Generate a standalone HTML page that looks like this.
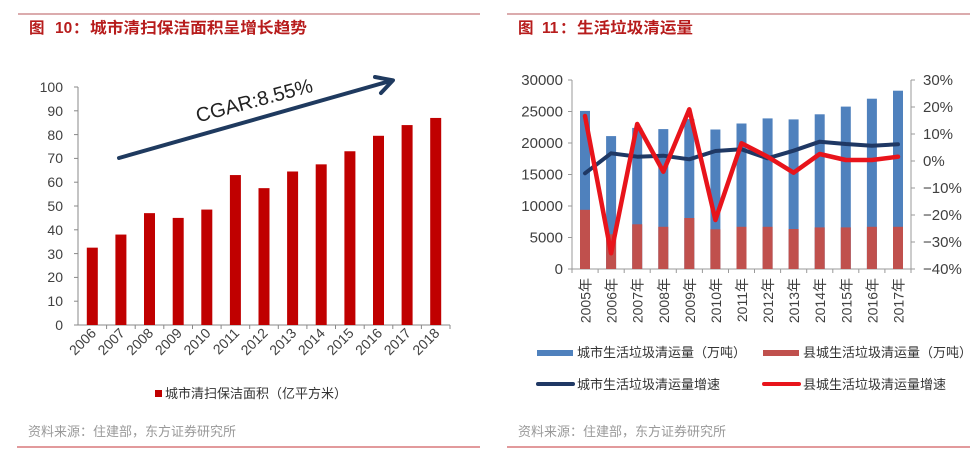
<!DOCTYPE html>
<html><head><meta charset="utf-8"><style>
html,body{margin:0;padding:0;background:#fff;}
svg{display:block;}
text{font-family:"Liberation Sans","Noto Sans CJK SC",sans-serif;}
</style></head><body>
<svg width="977" height="457" viewBox="0 0 977 457" xmlns="http://www.w3.org/2000/svg">
<rect width="977" height="457" fill="#fff"/>
<!-- frame lines -->
<line x1="18" y1="14" x2="480" y2="14" stroke="#cf8f92" stroke-width="1.5"/>
<line x1="507" y1="14" x2="970" y2="14" stroke="#cf8f92" stroke-width="1.5"/>
<line x1="17" y1="447" x2="480" y2="447" stroke="#d9787c" stroke-width="1.5"/>
<line x1="507" y1="447" x2="970" y2="447" stroke="#d9787c" stroke-width="1.5"/>
<!-- titles -->
<g fill="#b71c1c" font-size="15.5" font-weight="bold">
<text x="29" y="33">图</text>
<text x="55" y="33">10</text>
<text x="73" y="33">：</text>
<text x="90" y="33" textLength="217" lengthAdjust="spacingAndGlyphs">城市清扫保洁面积呈增长趋势</text>
<text x="518" y="33">图</text>
<text x="542" y="33">11</text>
<text x="560" y="33">：</text>
<text x="577" y="33" textLength="116" lengthAdjust="spacingAndGlyphs">生活垃圾清运量</text>
</g>
<!-- sources -->
<text x="28" y="436" font-size="13" fill="#999">资料来源：住建部，东方证券研究所</text>
<text x="518" y="436" font-size="13" fill="#999">资料来源：住建部，东方证券研究所</text>

<!-- LEFT CHART -->
<g font-size="14" fill="#404040" text-anchor="end">
<text x="63" y="92">100</text>
<text x="63" y="116">90</text>
<text x="63" y="140">80</text>
<text x="63" y="163">70</text>
<text x="63" y="187">60</text>
<text x="63" y="211">50</text>
<text x="63" y="235">40</text>
<text x="63" y="259">30</text>
<text x="63" y="282">20</text>
<text x="63" y="306">10</text>
<text x="63" y="330">0</text>
</g>
<g stroke="#888" stroke-width="1">
<line x1="78" y1="87" x2="78" y2="325"/>
<line x1="78" y1="325" x2="450" y2="325"/>
<line x1="74" y1="87" x2="78" y2="87"/><line x1="74" y1="110.8" x2="78" y2="110.8"/><line x1="74" y1="134.6" x2="78" y2="134.6"/><line x1="74" y1="158.4" x2="78" y2="158.4"/><line x1="74" y1="182.2" x2="78" y2="182.2"/><line x1="74" y1="206" x2="78" y2="206"/><line x1="74" y1="229.8" x2="78" y2="229.8"/><line x1="74" y1="253.6" x2="78" y2="253.6"/><line x1="74" y1="277.4" x2="78" y2="277.4"/><line x1="74" y1="301.2" x2="78" y2="301.2"/><line x1="74" y1="325" x2="78" y2="325"/>
<line x1="106.6" y1="325" x2="106.6" y2="329"/><line x1="135.2" y1="325" x2="135.2" y2="329"/><line x1="163.8" y1="325" x2="163.8" y2="329"/><line x1="192.5" y1="325" x2="192.5" y2="329"/><line x1="221.1" y1="325" x2="221.1" y2="329"/><line x1="249.7" y1="325" x2="249.7" y2="329"/><line x1="278.3" y1="325" x2="278.3" y2="329"/><line x1="306.9" y1="325" x2="306.9" y2="329"/><line x1="335.5" y1="325" x2="335.5" y2="329"/><line x1="364.2" y1="325" x2="364.2" y2="329"/><line x1="392.8" y1="325" x2="392.8" y2="329"/><line x1="421.4" y1="325" x2="421.4" y2="329"/><line x1="450" y1="325" x2="450" y2="329"/>
</g>
<g fill="#c00000">
<rect x="86.8" y="247.65" width="11" height="77.35"/>
<rect x="115.4" y="234.56" width="11" height="90.44"/>
<rect x="144" y="213.14" width="11" height="111.86"/>
<rect x="172.7" y="217.9" width="11" height="107.1"/>
<rect x="201.3" y="209.57" width="11" height="115.43"/>
<rect x="229.9" y="175.06" width="11" height="149.94"/>
<rect x="258.5" y="188.15" width="11" height="136.85"/>
<rect x="287.1" y="171.49" width="11" height="153.51"/>
<rect x="315.7" y="164.35" width="11" height="160.65"/>
<rect x="344.4" y="151.26" width="11" height="173.74"/>
<rect x="373" y="135.79" width="11" height="189.21"/>
<rect x="401.6" y="125.08" width="11" height="199.92"/>
<rect x="430.2" y="117.94" width="11" height="207.06"/>
</g>
<g font-size="14" fill="#404040" text-anchor="end">
<text transform="translate(97,334) rotate(-45)">2006</text>
<text transform="translate(125.6,334) rotate(-45)">2007</text>
<text transform="translate(154.2,334) rotate(-45)">2008</text>
<text transform="translate(182.9,334) rotate(-45)">2009</text>
<text transform="translate(211.5,334) rotate(-45)">2010</text>
<text transform="translate(240.1,334) rotate(-45)">2011</text>
<text transform="translate(268.7,334) rotate(-45)">2012</text>
<text transform="translate(297.3,334) rotate(-45)">2013</text>
<text transform="translate(325.9,334) rotate(-45)">2014</text>
<text transform="translate(354.6,334) rotate(-45)">2015</text>
<text transform="translate(383.2,334) rotate(-45)">2016</text>
<text transform="translate(411.8,334) rotate(-45)">2017</text>
<text transform="translate(440.4,334) rotate(-45)">2018</text>
</g>
<!-- arrow -->
<g stroke="#1f3a5f" stroke-width="4" fill="none" stroke-linecap="round" stroke-linejoin="round">
<line x1="119" y1="158" x2="392" y2="80.5"/>
<polyline points="375,77 393,80.3 381,93"/>
</g>
<text transform="translate(256,107) rotate(-15)" font-size="20" fill="#222" text-anchor="middle">CGAR:8.55%</text>
<!-- legend left -->
<rect x="155" y="390" width="7" height="7" fill="#c00000"/>
<text x="165" y="398" font-size="13" fill="#333">城市清扫保洁面积（亿平方米）</text>

<!-- RIGHT CHART -->
<g font-size="15" fill="#404040" text-anchor="end">
<text x="563" y="85">30000</text>
<text x="563" y="116.5">25000</text>
<text x="563" y="148">20000</text>
<text x="563" y="179.5">15000</text>
<text x="563" y="211">10000</text>
<text x="563" y="242.5">5000</text>
<text x="563" y="274">0</text>
</g>
<g font-size="15" fill="#404040">
<text x="923" y="85">30%</text>
<text x="923" y="112">20%</text>
<text x="923" y="139">10%</text>
<text x="923" y="166">0%</text>
<text x="923" y="193">−10%</text>
<text x="923" y="220">−20%</text>
<text x="923" y="247">−30%</text>
<text x="923" y="274">−40%</text>
</g>
<g stroke="#999" stroke-width="1">
<line x1="572" y1="80" x2="572" y2="269"/>
<line x1="911" y1="80" x2="911" y2="269"/>
<line x1="572" y1="269" x2="911" y2="269"/>
<line x1="568" y1="80" x2="572" y2="80"/><line x1="568" y1="111.5" x2="572" y2="111.5"/><line x1="568" y1="143" x2="572" y2="143"/><line x1="568" y1="174.5" x2="572" y2="174.5"/><line x1="568" y1="206" x2="572" y2="206"/><line x1="568" y1="237.5" x2="572" y2="237.5"/><line x1="568" y1="269" x2="572" y2="269"/>
<line x1="911" y1="80" x2="915" y2="80"/><line x1="911" y1="107" x2="915" y2="107"/><line x1="911" y1="134" x2="915" y2="134"/><line x1="911" y1="161" x2="915" y2="161"/><line x1="911" y1="188" x2="915" y2="188"/><line x1="911" y1="215" x2="915" y2="215"/><line x1="911" y1="242" x2="915" y2="242"/><line x1="911" y1="269" x2="915" y2="269"/>
<line x1="572" y1="269" x2="572" y2="273"/><line x1="598.1" y1="269" x2="598.1" y2="273"/><line x1="624.2" y1="269" x2="624.2" y2="273"/><line x1="650.2" y1="269" x2="650.2" y2="273"/><line x1="676.3" y1="269" x2="676.3" y2="273"/><line x1="702.4" y1="269" x2="702.4" y2="273"/><line x1="728.5" y1="269" x2="728.5" y2="273"/><line x1="754.5" y1="269" x2="754.5" y2="273"/><line x1="780.6" y1="269" x2="780.6" y2="273"/><line x1="806.7" y1="269" x2="806.7" y2="273"/><line x1="832.8" y1="269" x2="832.8" y2="273"/><line x1="858.8" y1="269" x2="858.8" y2="273"/><line x1="884.9" y1="269" x2="884.9" y2="273"/><line x1="911" y1="269" x2="911" y2="273"/>
</g>
<g fill="#4f81bd">
<rect x="580" y="110.9" width="10" height="158.1"/>
<rect x="606.1" y="136.1" width="10" height="132.9"/>
<rect x="632.2" y="127.9" width="10" height="141.1"/>
<rect x="658.3" y="129.1" width="10" height="139.9"/>
<rect x="684.3" y="119.1" width="10" height="149.9"/>
<rect x="710.4" y="129.5" width="10" height="139.5"/>
<rect x="736.5" y="123.5" width="10" height="145.5"/>
<rect x="762.6" y="118.4" width="10" height="150.6"/>
<rect x="788.6" y="119.4" width="10" height="149.6"/>
<rect x="814.7" y="114.3" width="10" height="154.7"/>
<rect x="840.8" y="106.6" width="10" height="162.4"/>
<rect x="866.9" y="98.7" width="10" height="170.3"/>
<rect x="893" y="90.7" width="10" height="178.3"/>
</g>
<g fill="#c0504d">
<rect x="580" y="209.8" width="10" height="59.2"/>
<rect x="606.1" y="234.3" width="10" height="34.7"/>
<rect x="632.2" y="224.3" width="10" height="44.7"/>
<rect x="658.3" y="226.8" width="10" height="42.2"/>
<rect x="684.3" y="218" width="10" height="51"/>
<rect x="710.4" y="229.3" width="10" height="39.7"/>
<rect x="736.5" y="226.8" width="10" height="42.2"/>
<rect x="762.6" y="226.8" width="10" height="42.2"/>
<rect x="788.6" y="229" width="10" height="40"/>
<rect x="814.7" y="227.4" width="10" height="41.6"/>
<rect x="840.8" y="227.4" width="10" height="41.6"/>
<rect x="866.9" y="226.8" width="10" height="42.2"/>
<rect x="893" y="226.8" width="10" height="42.2"/>
</g>
<polyline fill="none" stroke="#1f3864" stroke-width="4" stroke-linejoin="round" stroke-linecap="round"
 points="585,173.3 611.1,153.3 637.2,156.7 663.3,155.7 689.3,159.3 715.4,151 741.5,149.3 767.6,158.3 793.6,150.7 819.7,141.7 845.8,144 871.9,145.7 898,144.3"/>
<polyline fill="none" stroke="#e8141b" stroke-width="4.5" stroke-linejoin="round" stroke-linecap="round"
 points="585,116 611.1,253.3 637.2,124 663.3,171.7 689.3,109.3 715.4,220 741.5,143.3 767.6,156.7 793.6,172.7 819.7,154 845.8,160 871.9,160 898,156.7"/>
<g font-size="14" fill="#404040" text-anchor="end">
<text transform="translate(590.5,278) rotate(-90)">2005年</text>
<text transform="translate(616.6,278) rotate(-90)">2006年</text>
<text transform="translate(642.7,278) rotate(-90)">2007年</text>
<text transform="translate(668.8,278) rotate(-90)">2008年</text>
<text transform="translate(694.8,278) rotate(-90)">2009年</text>
<text transform="translate(720.9,278) rotate(-90)">2010年</text>
<text transform="translate(747,278) rotate(-90)">2011年</text>
<text transform="translate(773.1,278) rotate(-90)">2012年</text>
<text transform="translate(799.1,278) rotate(-90)">2013年</text>
<text transform="translate(825.2,278) rotate(-90)">2014年</text>
<text transform="translate(851.3,278) rotate(-90)">2015年</text>
<text transform="translate(877.4,278) rotate(-90)">2016年</text>
<text transform="translate(903.5,278) rotate(-90)">2017年</text>
</g>
<!-- legend right -->
<rect x="537" y="350" width="36" height="6" fill="#4f81bd"/>
<text x="577" y="357" font-size="13" fill="#333">城市生活垃圾清运量（万吨）</text>
<rect x="763" y="350" width="36" height="6" fill="#c0504d"/>
<text x="803" y="357" font-size="13" fill="#333">县城生活垃圾清运量（万吨）</text>
<line x1="538" y1="384" x2="573" y2="384" stroke="#1f3864" stroke-width="4" stroke-linecap="round"/>
<text x="577" y="389" font-size="13" fill="#333">城市生活垃圾清运量增速</text>
<line x1="764" y1="384" x2="799" y2="384" stroke="#e8141b" stroke-width="4" stroke-linecap="round"/>
<text x="803" y="389" font-size="13" fill="#333">县城生活垃圾清运量增速</text>
</svg>
</body></html>
